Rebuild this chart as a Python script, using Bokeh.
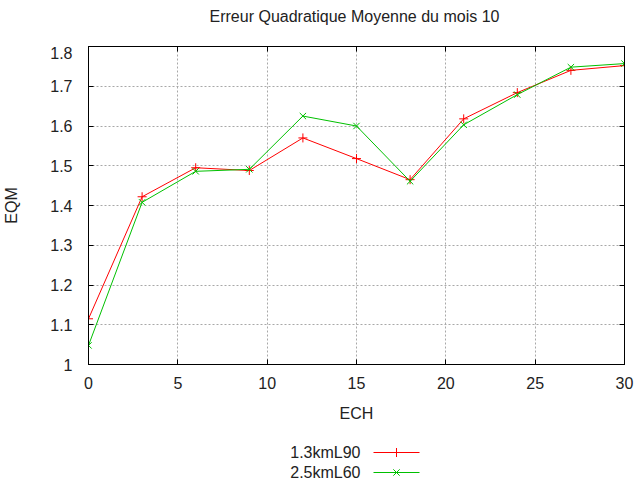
from bokeh.plotting import figure
from bokeh.models import FixedTicker, LinearAxis, Range1d, CustomLabelingPolicy
from bokeh.layouts import column
from bokeh.embed import file_html
from bokeh.resources import INLINE

# Forecast lead time (h) and root-mean-square error for both configurations
ech = [0, 3, 6, 9, 12, 15, 18, 21, 24, 27, 30]
eqm_13km = [1.115, 1.422, 1.495, 1.488, 1.570, 1.518, 1.465, 1.618, 1.684, 1.740, 1.752]
eqm_25km = [1.048, 1.408, 1.486, 1.491, 1.625, 1.600, 1.461, 1.603, 1.679, 1.748, 1.757]
series_names = ["1.3kmL90", "2.5kmL60"]
series_colors = ["#ff0000", "#00c000"]
series_markers = ["cross", "x"]
chart_title = "Erreur Quadratique Moyenne du mois 10"

x_ticks = [0, 5, 10, 15, 20, 25, 30]
x_tick_labels = ["0", "5", "10", "15", "20", "25", "30"]
y_ticks = [1.0, 1.1, 1.2, 1.3, 1.4, 1.5, 1.6, 1.7, 1.8]
y_tick_labels = ["1", "1.1", "1.2", "1.3", "1.4", "1.5", "1.6", "1.7", "1.8"]

FONT = "Liberation Sans"
FSIZE = "16px"
TEXT_COLOR = "#222222"

LEFT, RIGHT, FRAME_W = 88, 10, 536
TITLE_H, FRAME_H, BOTTOM_H, KEY_H = 46, 318, 66, 54


def strip_figure(height):
    """Blank strip sharing the chart's left/right borders; x and y in page pixels."""
    f = figure(
        frame_width=FRAME_W, frame_height=height,
        min_border_left=LEFT, min_border_right=RIGHT,
        min_border_top=0, min_border_bottom=0,
        x_range=Range1d(LEFT, LEFT + FRAME_W), y_range=Range1d(height, 0),
        output_backend="svg", toolbar_location=None,
        x_axis_type=None, y_axis_type=None,
    )
    f.outline_line_color = None
    f.grid.visible = False
    f.background_fill_color = "white"
    f.border_fill_color = "white"
    return f


# title strip
head = strip_figure(TITLE_H)
head.text(x=[LEFT + FRAME_W / 2 - 2], y=[16], text=[chart_title],
          text_align="center", text_baseline="middle",
          text_font={"value": FONT}, text_font_size={"value": FSIZE},
          text_color=TEXT_COLOR)

# main chart
p = figure(
    frame_width=FRAME_W, frame_height=FRAME_H,
    min_border_left=LEFT, min_border_right=RIGHT,
    min_border_top=0, min_border_bottom=BOTTOM_H,
    x_range=Range1d(0, 30), y_range=Range1d(1.0, 1.8),
    output_backend="svg", toolbar_location=None,
)
p.background_fill_color = "white"
p.border_fill_color = "white"
p.outline_line_color = "black"
p.outline_line_width = 1

# policy that suppresses every tick label (for the mirrored border ticks)
no_labels = CustomLabelingPolicy(code="""
    for (const i of indices)
        indices.unset(i)
    return indices
""")


def style_axis(ax, ticks, labels, show_labels=True):
    ax.ticker = FixedTicker(ticks=ticks)
    ax.axis_line_color = "black"
    ax.major_tick_line_color = "black"
    ax.major_tick_in = 5
    ax.major_tick_out = 0
    ax.minor_tick_line_color = None
    ax.major_label_text_font = FONT
    ax.major_label_text_color = TEXT_COLOR
    ax.axis_label_text_font = FONT
    ax.axis_label_text_font_size = FSIZE
    ax.axis_label_text_font_style = "normal"
    ax.axis_label_text_color = TEXT_COLOR
    if show_labels:
        ax.major_label_text_font_size = FSIZE
        ax.major_label_overrides = dict(zip(ticks, labels))
    else:
        # border ticks only: no labels and no room taken for them
        ax.major_label_policy = no_labels
        ax.major_label_text_font_size = "0px"
        ax.major_label_standoff = 0
        ax.axis_label_standoff = 0


xa = p.xaxis[0]
style_axis(xa, x_ticks, x_tick_labels)
xa.axis_label = "ECH"
xa.major_label_standoff = 12
xa.axis_label_standoff = 13

ya = p.yaxis[0]
style_axis(ya, y_ticks, y_tick_labels)
ya.axis_label = "EQM"
ya.major_label_standoff = 16
ya.axis_label_standoff = 27

# mirrored ticks on the top and right borders
top_ax = LinearAxis()
style_axis(top_ax, x_ticks, x_tick_labels, show_labels=False)
p.add_layout(top_ax, "above")
right_ax = LinearAxis()
style_axis(right_ax, y_ticks, y_tick_labels, show_labels=False)
p.add_layout(right_ax, "right")

p.xgrid.ticker = FixedTicker(ticks=x_ticks)
p.ygrid.ticker = FixedTicker(ticks=y_ticks)
for g in (p.xgrid[0], p.ygrid[0]):
    g.grid_line_color = "#a8a8a8"
    g.grid_line_dash = "2 2"
    g.grid_line_width = 1

for vals, color, marker in zip([eqm_13km, eqm_25km], series_colors, series_markers):
    p.line(ech, vals, line_color=color, line_width=1)
    p.scatter(ech, vals, marker=marker, size=9, line_color=color, line_width=1)

# key below the chart: label, then a line sample with its marker
key = strip_figure(KEY_H)
row_y = [22, 42]
key.text(x=[360] * len(series_names), y=row_y, text=series_names,
         text_align="right", text_baseline="middle",
         text_font={"value": FONT}, text_font_size={"value": FSIZE},
         text_color=TEXT_COLOR)
for yy, color, marker in zip(row_y, series_colors, series_markers):
    key.segment(x0=[373], y0=[yy], x1=[419], y1=[yy], line_color=color, line_width=1)
    key.scatter([396], [yy], marker=marker, size=9, line_color=color, line_width=1)

layout = column(head, p, key, spacing=0)

with open("out.html", "w") as f:
    f.write(file_html(layout, INLINE))
